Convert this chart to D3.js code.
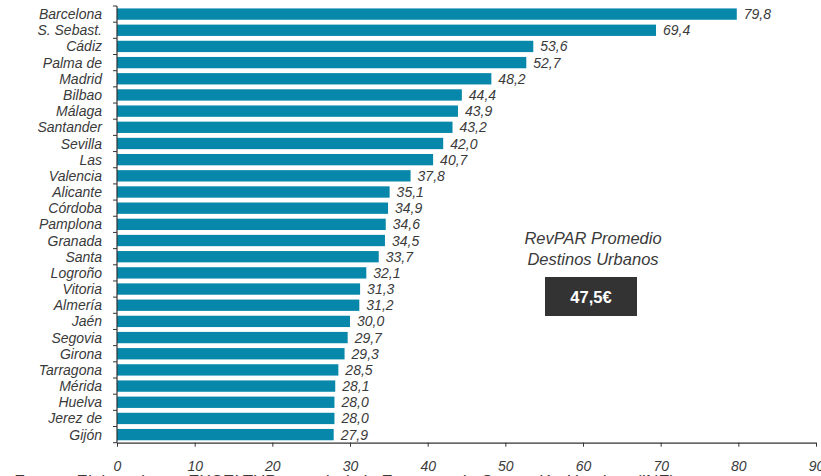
<!DOCTYPE html>
<html><head><meta charset="utf-8">
<script src="https://cdn.jsdelivr.net/npm/d3@7"></script>
<style>
html,body{margin:0;padding:0;background:#fff;}
svg{display:block;font-family:"Liberation Sans",Arial,Helvetica,sans-serif;}
</style></head>
<body><svg id="c" width="821" height="476"></svg>
<script>
const categories = ["Barcelona","S. Sebast.","Cádiz","Palma de","Madrid","Bilbao","Málaga","Santander","Sevilla","Las","Valencia","Alicante","Córdoba","Pamplona","Granada","Santa","Logroño","Vitoria","Almería","Jaén","Segovia","Girona","Tarragona","Mérida","Huelva","Jerez de","Gijón"];
const values = [79.8,69.4,53.6,52.7,48.2,44.4,43.9,43.2,42.0,40.7,37.8,35.1,34.9,34.6,34.5,33.7,32.1,31.3,31.2,30.0,29.7,29.3,28.5,28.1,28.0,28.0,27.9];
const xTicks = [0,10,20,30,40,50,60,70,80,90];
const boxTitle = ["RevPAR Promedio","Destinos Urbanos"];
const boxValue = "47,5€";
const sourceText = "Fuente: Elaborado por EXCELTUR a partir de la Encuesta de Ocupación Hotelera (INE)";

const svg = d3.select("#c");
const x = d3.scaleLinear().domain([0,90]).range([117,816]);
const y = d3.scaleBand().domain(categories).range([6,442.7]).paddingInner(0.3).paddingOuter(0.15);
const fmt = v => d3.format(".1f")(v).replace(".", ",");
const textColor = "#3a3a3a";

// bars
svg.append("g").selectAll("rect").data(categories).join("rect")
  .attr("x", x(0)).attr("y", d => y(d))
  .attr("width", (d,i) => x(values[i]) - x(0))
  .attr("height", y.bandwidth())
  .attr("fill", "#0787a9");

// value labels
svg.append("g").selectAll("text").data(categories).join("text")
  .attr("x", (d,i) => x(values[i]) + 7)
  .attr("y", d => y(d) + y.bandwidth()/2)
  .attr("dy", "0.36em")
  .attr("font-size", 14).attr("font-style","italic").attr("fill", textColor)
  .text((d,i) => fmt(values[i]));

// left axis (ticks at band boundaries)
const yAxisG = svg.append("g");
const step = (442.7-6)/categories.length;
yAxisG.append("line").attr("x1",x(0)).attr("x2",x(0)).attr("y1",6).attr("y2",442.7).attr("stroke","#333").attr("stroke-width",1.2);
yAxisG.selectAll("line.t").data(d3.range(categories.length+1)).join("line").attr("class","t")
  .attr("x1",x(0)-4).attr("x2",x(0)).attr("y1",i=>6+i*step).attr("y2",i=>6+i*step)
  .attr("stroke","#333").attr("stroke-width",1);
yAxisG.selectAll("text").data(categories).join("text")
  .attr("x", 102).attr("y", d => y(d) + y.bandwidth()/2).attr("dy","0.36em")
  .attr("text-anchor","end").attr("font-size",14).attr("font-style","italic").attr("fill",textColor)
  .text(d=>d);

// bottom axis
const xAxis = d3.axisBottom(x).tickValues(xTicks).tickSize(4).tickSizeOuter(0).tickPadding(14).tickFormat(d=>d);
const xg = svg.append("g").attr("transform","translate(0,442.7)").call(xAxis);
xg.select(".domain").attr("stroke","#333").attr("stroke-width",1.2);
xg.selectAll(".tick line").attr("stroke","#333");
xg.selectAll(".tick text").attr("font-size",14).attr("font-style","italic").attr("fill",textColor)
  .attr("font-family","'Liberation Sans',Arial,sans-serif");

// annotation box
svg.append("g").selectAll("text").data(boxTitle).join("text")
  .attr("x",593).attr("y",(d,i)=>243.5+i*21.5).attr("text-anchor","middle")
  .attr("font-size",16.5).attr("font-style","italic").attr("fill",textColor).text(d=>d);
svg.append("rect").attr("x",545).attr("y",277).attr("width",92).attr("height",39).attr("fill","#333333");
svg.append("text").attr("x",591).attr("y",302.5).attr("text-anchor","middle")
  .attr("font-size",16.5).attr("font-weight","bold").attr("fill","#fff").text(boxValue);

// source
svg.append("text").attr("x",13).attr("y",487).attr("font-size",17).attr("font-style","italic").attr("fill",textColor).text(sourceText);
</script></body></html>
